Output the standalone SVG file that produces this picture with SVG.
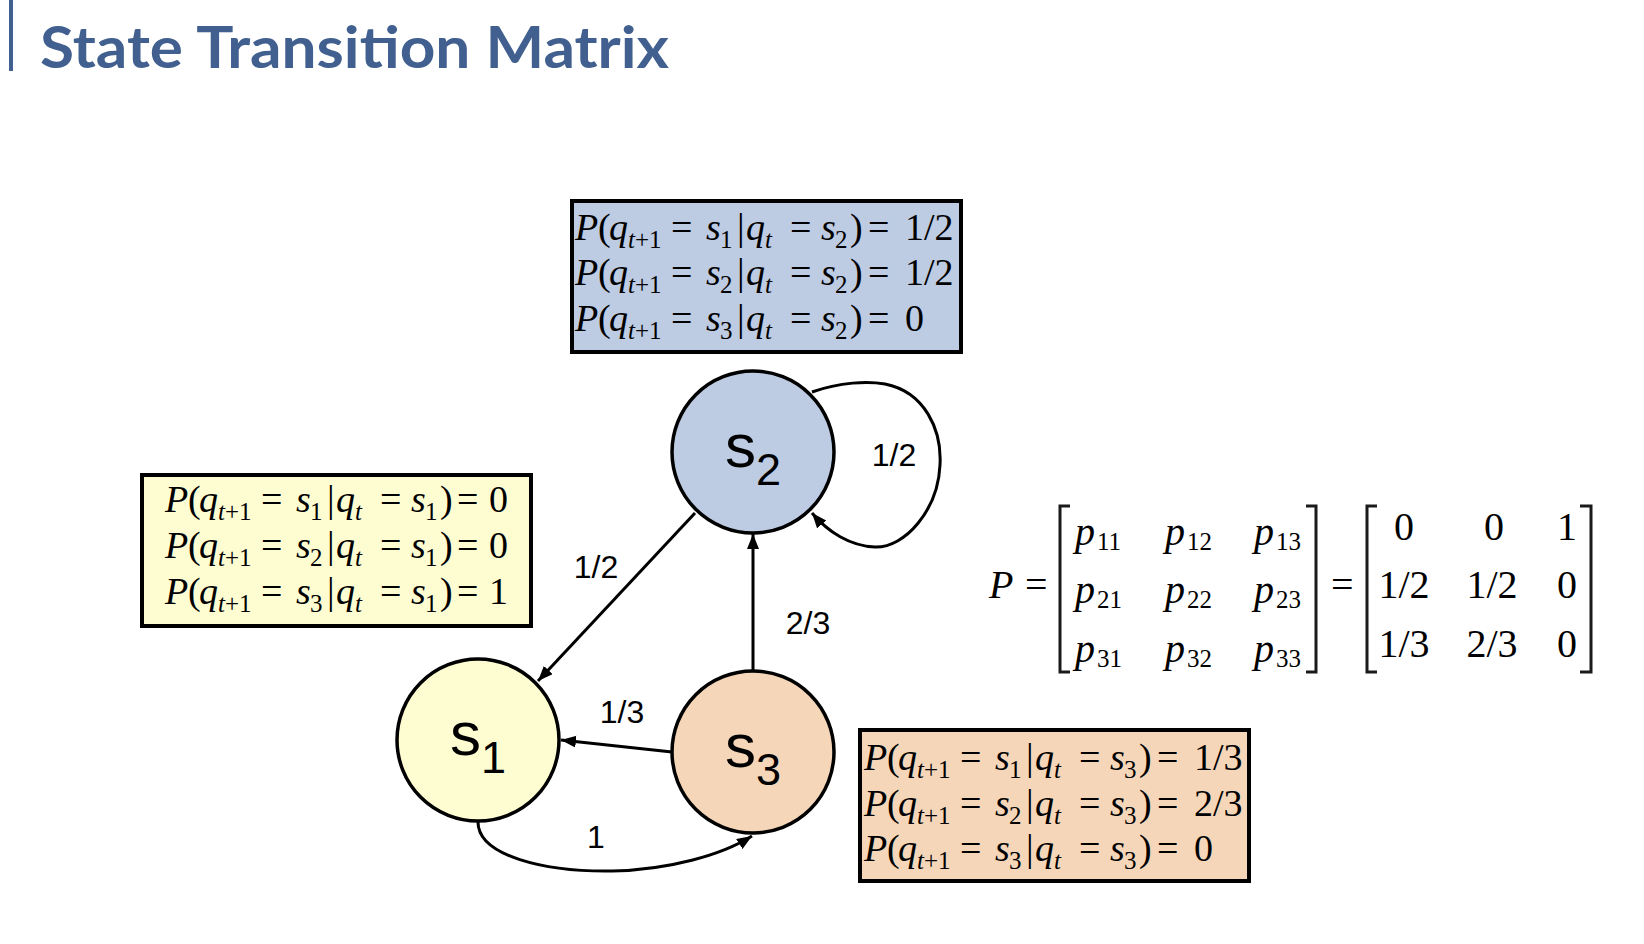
<svg xmlns="http://www.w3.org/2000/svg" width="1644" height="944" viewBox="0 0 1644 944">
<defs>
<marker id="arr" markerWidth="16" markerHeight="13" refX="15" refY="6" orient="auto" markerUnits="userSpaceOnUse"><path d="M0,0 L15,6 L0,12 z" fill="#000"/></marker>
<style>
.title{font-family:Lato,"Open Sans","Liberation Sans",sans-serif;font-weight:bold;font-size:58px;fill:#41608f}
.nc{stroke:#000;stroke-width:3.5}
.nl{font-family:"Liberation Sans",Arial,sans-serif;font-size:62px;fill:#000}
.ns{font-size:45px}
.lbl{font-family:"Liberation Sans",Arial,sans-serif;font-size:32px;text-anchor:middle;fill:#000}
.box{stroke:#000;stroke-width:4}
.m{font-family:"Liberation Serif","Times New Roman",serif;font-size:38px;fill:#000}
.i{font-style:italic}
.sb{font-size:25px}
.edge{fill:none;stroke:#000;stroke-width:3;marker-end:url(#arr)}
.mx{font-family:"Liberation Serif","Times New Roman",serif;font-size:40px;fill:#000}
.mxs{font-size:25px}
.br{fill:none;stroke:#1a1a1a;stroke-width:3}
</style>
</defs>
<rect width="1644" height="944" fill="#fff"/>
<g id="title">
<rect x="9" y="0" width="4" height="71" fill="#41608f"/>
<text class="title" x="40" y="68" textLength="629" lengthAdjust="spacingAndGlyphs">State Transition Matrix</text>
</g>

<g id="connectors">
<path class="edge" d="M695,513 L538,681"/>
<path class="edge" d="M753,670 L753,534"/>
<path class="edge" d="M672,752 L561,740"/>
<path class="edge" d="M478,822 C478,856 545,872 612,871 C668,870 722,855 752,836"/>
<path class="edge" d="M812,392 C840,382 868,381 885,384 C925,392 942,430 940,465 C938,510 905,548 875,547 C850,546 828,532 812,513"/>
<text class="lbl" x="596" y="578">1/2</text>
<text class="lbl" x="808" y="634">2/3</text>
<text class="lbl" x="622" y="723">1/3</text>
<text class="lbl" x="596" y="848">1</text>
<text class="lbl" x="894" y="466">1/2</text>
</g>

<g id="node-s2">
<circle class="nc" cx="753" cy="452" r="81" fill="#bdcbe3"/>
<text class="nl" x="725" y="467">s<tspan class="ns" x="756" y="485">2</tspan></text>
</g>
<g id="node-s1">
<circle class="nc" cx="478" cy="740" r="81" fill="#fefdd2"/>
<text class="nl" x="450" y="755">s<tspan class="ns" x="481" y="773">1</tspan></text>
</g>
<g id="node-s3">
<circle class="nc" cx="753" cy="752" r="81" fill="#f5d6b9"/>
<text class="nl" x="725" y="767">s<tspan class="ns" x="756" y="785">3</tspan></text>
</g>

<g id="box-s2">
<rect class="box" x="572" y="201" width="389" height="151" fill="#bdcbe3"/>
<g transform="translate(575,240)"><text class="m"><tspan class="i" x="0" y="0">P</tspan><tspan x="23">(</tspan><tspan class="i" x="34">q</tspan><tspan class="sb" x="53" y="8"><tspan class="i">t</tspan>+1</tspan><tspan x="96" y="0">=</tspan><tspan class="i" x="131">s</tspan><tspan class="sb" x="145" y="8">1</tspan><tspan x="162" y="0">|</tspan><tspan class="i" x="171">q</tspan><tspan class="sb i" x="190" y="8">t</tspan><tspan x="215" y="0">=</tspan><tspan class="i" x="246">s</tspan><tspan class="sb" x="260" y="8">2</tspan><tspan x="275" y="0">)</tspan><tspan x="293">=</tspan><tspan x="330">1/2</tspan></text></g>
<g transform="translate(575,285)"><text class="m"><tspan class="i" x="0" y="0">P</tspan><tspan x="23">(</tspan><tspan class="i" x="34">q</tspan><tspan class="sb" x="53" y="8"><tspan class="i">t</tspan>+1</tspan><tspan x="96" y="0">=</tspan><tspan class="i" x="131">s</tspan><tspan class="sb" x="145" y="8">2</tspan><tspan x="162" y="0">|</tspan><tspan class="i" x="171">q</tspan><tspan class="sb i" x="190" y="8">t</tspan><tspan x="215" y="0">=</tspan><tspan class="i" x="246">s</tspan><tspan class="sb" x="260" y="8">2</tspan><tspan x="275" y="0">)</tspan><tspan x="293">=</tspan><tspan x="330">1/2</tspan></text></g>
<g transform="translate(575,331)"><text class="m"><tspan class="i" x="0" y="0">P</tspan><tspan x="23">(</tspan><tspan class="i" x="34">q</tspan><tspan class="sb" x="53" y="8"><tspan class="i">t</tspan>+1</tspan><tspan x="96" y="0">=</tspan><tspan class="i" x="131">s</tspan><tspan class="sb" x="145" y="8">3</tspan><tspan x="162" y="0">|</tspan><tspan class="i" x="171">q</tspan><tspan class="sb i" x="190" y="8">t</tspan><tspan x="215" y="0">=</tspan><tspan class="i" x="246">s</tspan><tspan class="sb" x="260" y="8">2</tspan><tspan x="275" y="0">)</tspan><tspan x="293">=</tspan><tspan x="330">0</tspan></text></g>
</g>

<g id="box-s1">
<rect class="box" x="142" y="475" width="389" height="151" fill="#fefdd2"/>
<g transform="translate(165,512)"><text class="m"><tspan class="i" x="0" y="0">P</tspan><tspan x="23">(</tspan><tspan class="i" x="34">q</tspan><tspan class="sb" x="53" y="8"><tspan class="i">t</tspan>+1</tspan><tspan x="96" y="0">=</tspan><tspan class="i" x="131">s</tspan><tspan class="sb" x="145" y="8">1</tspan><tspan x="162" y="0">|</tspan><tspan class="i" x="171">q</tspan><tspan class="sb i" x="190" y="8">t</tspan><tspan x="215" y="0">=</tspan><tspan class="i" x="246">s</tspan><tspan class="sb" x="260" y="8">1</tspan><tspan x="275" y="0">)</tspan><tspan x="292">=</tspan><tspan x="324">0</tspan></text></g>
<g transform="translate(165,558)"><text class="m"><tspan class="i" x="0" y="0">P</tspan><tspan x="23">(</tspan><tspan class="i" x="34">q</tspan><tspan class="sb" x="53" y="8"><tspan class="i">t</tspan>+1</tspan><tspan x="96" y="0">=</tspan><tspan class="i" x="131">s</tspan><tspan class="sb" x="145" y="8">2</tspan><tspan x="162" y="0">|</tspan><tspan class="i" x="171">q</tspan><tspan class="sb i" x="190" y="8">t</tspan><tspan x="215" y="0">=</tspan><tspan class="i" x="246">s</tspan><tspan class="sb" x="260" y="8">1</tspan><tspan x="275" y="0">)</tspan><tspan x="292">=</tspan><tspan x="324">0</tspan></text></g>
<g transform="translate(165,604)"><text class="m"><tspan class="i" x="0" y="0">P</tspan><tspan x="23">(</tspan><tspan class="i" x="34">q</tspan><tspan class="sb" x="53" y="8"><tspan class="i">t</tspan>+1</tspan><tspan x="96" y="0">=</tspan><tspan class="i" x="131">s</tspan><tspan class="sb" x="145" y="8">3</tspan><tspan x="162" y="0">|</tspan><tspan class="i" x="171">q</tspan><tspan class="sb i" x="190" y="8">t</tspan><tspan x="215" y="0">=</tspan><tspan class="i" x="246">s</tspan><tspan class="sb" x="260" y="8">1</tspan><tspan x="275" y="0">)</tspan><tspan x="292">=</tspan><tspan x="324">1</tspan></text></g>
</g>

<g id="box-s3">
<rect class="box" x="860" y="730" width="389" height="151" fill="#f5d6b9"/>
<g transform="translate(864,770)"><text class="m"><tspan class="i" x="0" y="0">P</tspan><tspan x="23">(</tspan><tspan class="i" x="34">q</tspan><tspan class="sb" x="53" y="8"><tspan class="i">t</tspan>+1</tspan><tspan x="96" y="0">=</tspan><tspan class="i" x="131">s</tspan><tspan class="sb" x="145" y="8">1</tspan><tspan x="162" y="0">|</tspan><tspan class="i" x="171">q</tspan><tspan class="sb i" x="190" y="8">t</tspan><tspan x="215" y="0">=</tspan><tspan class="i" x="246">s</tspan><tspan class="sb" x="260" y="8">3</tspan><tspan x="275" y="0">)</tspan><tspan x="293">=</tspan><tspan x="330">1/3</tspan></text></g>
<g transform="translate(864,816)"><text class="m"><tspan class="i" x="0" y="0">P</tspan><tspan x="23">(</tspan><tspan class="i" x="34">q</tspan><tspan class="sb" x="53" y="8"><tspan class="i">t</tspan>+1</tspan><tspan x="96" y="0">=</tspan><tspan class="i" x="131">s</tspan><tspan class="sb" x="145" y="8">2</tspan><tspan x="162" y="0">|</tspan><tspan class="i" x="171">q</tspan><tspan class="sb i" x="190" y="8">t</tspan><tspan x="215" y="0">=</tspan><tspan class="i" x="246">s</tspan><tspan class="sb" x="260" y="8">3</tspan><tspan x="275" y="0">)</tspan><tspan x="293">=</tspan><tspan x="330">2/3</tspan></text></g>
<g transform="translate(864,861)"><text class="m"><tspan class="i" x="0" y="0">P</tspan><tspan x="23">(</tspan><tspan class="i" x="34">q</tspan><tspan class="sb" x="53" y="8"><tspan class="i">t</tspan>+1</tspan><tspan x="96" y="0">=</tspan><tspan class="i" x="131">s</tspan><tspan class="sb" x="145" y="8">3</tspan><tspan x="162" y="0">|</tspan><tspan class="i" x="171">q</tspan><tspan class="sb i" x="190" y="8">t</tspan><tspan x="215" y="0">=</tspan><tspan class="i" x="246">s</tspan><tspan class="sb" x="260" y="8">3</tspan><tspan x="275" y="0">)</tspan><tspan x="293">=</tspan><tspan x="330">0</tspan></text></g>
</g>

<g id="matrix">
<text class="mx" x="989" y="598" font-size="45"><tspan class="i">P</tspan></text>
<text class="mx" x="1025" y="598" font-size="45">=</text>
<path class="br" d="M1070,506 L1060,506 L1060,672 L1070,672"/>
<path class="br" d="M1306,506 L1316,506 L1316,672 L1306,672"/>
<text class="mx" x="1331" y="598" font-size="45">=</text>
<path class="br" d="M1377,506 L1367,506 L1367,672 L1377,672"/>
<path class="br" d="M1580,506 L1591,506 L1591,672 L1580,672"/>
<text class="mx"><tspan class="i" x="1075" y="545">p</tspan><tspan class="mxs" x="1097" y="550">11</tspan><tspan class="i" x="1165" y="545">p</tspan><tspan class="mxs" x="1187" y="550">12</tspan><tspan class="i" x="1254" y="545">p</tspan><tspan class="mxs" x="1276" y="550">13</tspan></text>
<text class="mx"><tspan class="i" x="1075" y="603">p</tspan><tspan class="mxs" x="1097" y="608">21</tspan><tspan class="i" x="1165" y="603">p</tspan><tspan class="mxs" x="1187" y="608">22</tspan><tspan class="i" x="1254" y="603">p</tspan><tspan class="mxs" x="1276" y="608">23</tspan></text>
<text class="mx"><tspan class="i" x="1075" y="662">p</tspan><tspan class="mxs" x="1097" y="667">31</tspan><tspan class="i" x="1165" y="662">p</tspan><tspan class="mxs" x="1187" y="667">32</tspan><tspan class="i" x="1254" y="662">p</tspan><tspan class="mxs" x="1276" y="667">33</tspan></text>
<g text-anchor="middle">
<text class="mx" x="1404" y="540">0</text><text class="mx" x="1494" y="540">0</text><text class="mx" x="1567" y="540">1</text>
<text class="mx" x="1404" y="598">1/2</text><text class="mx" x="1492" y="598">1/2</text><text class="mx" x="1567" y="598">0</text>
<text class="mx" x="1404" y="657">1/3</text><text class="mx" x="1492" y="657">2/3</text><text class="mx" x="1567" y="657">0</text>
</g>
</g>
</svg>
